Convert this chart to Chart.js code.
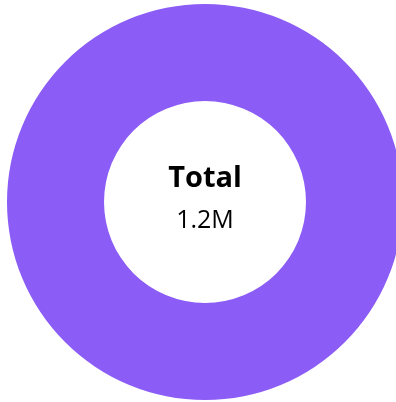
<!DOCTYPE html>
<html>
<head>
<meta charset="utf-8">
<script src="https://cdn.jsdelivr.net/npm/chart.js@4"></script>
<style>
    html, body { margin: 0; padding: 0; overflow: hidden; background: #fff; }
    #wrap { width: 410px; height: 402px; }
</style>
</head>
<body>
<div id="wrap"><canvas id="chart"></canvas></div>
<script>
const labels = ['Total'];
const values = [1200000];
const colors = ['#8B5CF6'];
const centerTitle = 'Total';
const centerValue = '1.2M';

const centerText = {
    id: 'centerText',
    afterDraw(chart) {
        const ctx = chart.ctx;
        const arc = chart.getDatasetMeta(0).data[0];
        ctx.save();
        ctx.textAlign = 'center';
        ctx.textBaseline = 'alphabetic';
        ctx.fillStyle = '#000';
        ctx.font = 'bold 29px "Open Sans", "Noto Sans", sans-serif';
        ctx.fillText(centerTitle, arc.x, arc.y - 15);
        ctx.font = '25px "Open Sans", "Noto Sans", sans-serif';
        ctx.fillText(centerValue, arc.x, arc.y + 26);
        ctx.restore();
    }
};

new Chart(document.getElementById('chart'), {
    type: 'doughnut',
    data: {
        labels: labels,
        datasets: [{
            data: values,
            backgroundColor: colors,
            borderWidth: 0
        }]
    },
    options: {
        responsive: true,
        maintainAspectRatio: false,
        animation: false,
        cutout: '51%',
        layout: { padding: { top: 4, bottom: 2 } },
        plugins: {
            legend: { display: false },
            tooltip: { enabled: false }
        }
    },
    plugins: [centerText]
});
</script>
</body>
</html>
